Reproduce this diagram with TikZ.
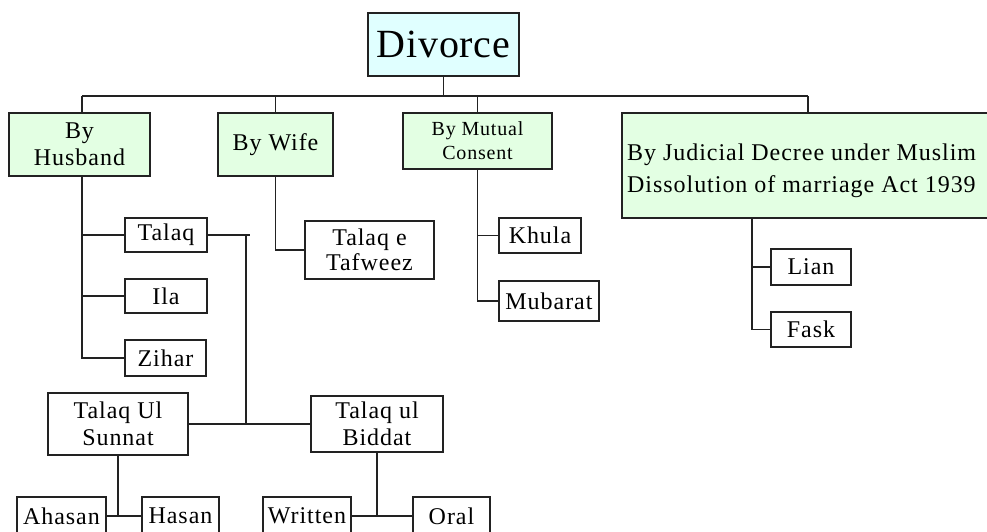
\documentclass[tikz,border=0pt]{standalone}
\usepackage{fontspec}
\setmainfont{Liberation Serif}
\newfontfamily\boxfont[LetterSpace=4]{Liberation Serif}
\newfontfamily\bigfont[LetterSpace=2]{Liberation Serif}
\definecolor{cyanfill}{HTML}{E0FFFF}
\definecolor{greenfill}{HTML}{E3FFE3}
\definecolor{linecol}{HTML}{222222}
\begin{document}
\begin{tikzpicture}[x=1pt,y=-1pt,
  box/.style={draw=linecol,line width=1.1pt,fill=white,inner sep=0pt,align=center,
    font=\boxfont\fontsize{24}{27}\selectfont},
  grn/.style={box,fill=greenfill},
  conn/.style={draw=linecol,line width=1.1pt}]
\useasboundingbox (0,0) rectangle (987,531);
\clip (0,0) rectangle (987,531);
\fill[white] (0,0) rectangle (987,531);

% top
\node[box,fill=cyanfill,minimum width=151,minimum height=63,
  font=\bigfont\fontsize{40}{44}\selectfont] (divorce) at (443.5,44.5) {Divorce};

% level 1
\node[grn,minimum width=141,minimum height=63] (husband) at (79.5,144.5) {By\\Husband};
\node[grn,minimum width=115,minimum height=63] (wife) at (275.5,144.5) {By Wife};
\node[grn,minimum width=149,minimum height=56,
  font=\boxfont\fontsize{20}{24}\selectfont] (mutual) at (477.5,141) {By Mutual\\Consent};
\node[grn,minimum width=372,minimum height=105] (judicial) at (808,165.5) {};
\node[anchor=west,align=left,inner sep=0pt,
  font=\boxfont\fontsize{24}{32}\selectfont] (judtext) at (627,171)
  {By Judicial Decree under Muslim\\Dissolution of marriage Act 1939};

% husband children
\node[box,minimum width=82,minimum height=34] (talaq) at (166,235) {Talaq};
\node[box,minimum width=82,minimum height=34] (ila) at (166,296) {Ila};
\node[box,minimum width=81,minimum height=36] (zihar) at (165.5,358) {Zihar};

% wife child
\node[box,minimum width=129,minimum height=58,
  font=\boxfont\fontsize{24}{25}\selectfont] (tafweez) at (369.5,250) {Talaq e\\Tafweez};

% mutual children
\node[box,minimum width=82,minimum height=35] (khula) at (540,235.5) {Khula};
\node[box,minimum width=100,minimum height=40] (mubarat) at (549,301) {Mubarat};

% judicial children
\node[box,minimum width=80,minimum height=36] (lian) at (811,267) {Lian};
\node[box,minimum width=80,minimum height=35] (fask) at (811,329.5) {Fask};

% talaq subtypes
\node[box,minimum width=140,minimum height=62] (sunnat) at (118,424) {Talaq Ul\\Sunnat};
\node[box,minimum width=132,minimum height=56] (biddat) at (377,424) {Talaq ul\\Biddat};

% bottom row
\node[box,minimum width=89,minimum height=38] (ahasan) at (61.5,516) {Ahasan};
\node[box,minimum width=77,minimum height=38] (hasan) at (180.5,516) {Hasan};
\node[box,minimum width=88,minimum height=38] (written) at (307,516) {Written};
\node[box,minimum width=77,minimum height=38] (oral) at (451.5,516) {Oral};

% connectors
\coordinate (bL) at (82,96);
\coordinate (bR) at (808,96);
\draw[conn] (divorce.south) -- (divorce.south |- bL);
\draw[conn] (bL) -- (bR);
\draw[conn] (bL) -- (bL |- husband.north);
\draw[conn] (wife.north |- bL) -- (wife.north);
\draw[conn] (mutual.north |- bL) -- (mutual.north);
\draw[conn] (bR) -- (judicial.north);

\draw[conn] (bL |- husband.south) -- (bL |- zihar.west) -- (zihar.west);
\draw[conn] (bL |- talaq.west) -- (talaq.west);
\draw[conn] (bL |- ila.west) -- (ila.west);

\draw[conn] (wife.south) -- (wife.south |- tafweez.west) -- (tafweez.west);

\draw[conn] (mutual.south) -- (mutual.south |- mubarat.west) -- (mubarat.west);
\draw[conn] (mutual.south |- khula.west) -- (khula.west);

\coordinate (jv) at (752,218);
\draw[conn] (jv) -- (jv |- fask.west) -- (fask.west);
\draw[conn] (jv |- lian.west) -- (lian.west);

\coordinate (tq) at (250,235);
\coordinate (tv) at (246,235);
\draw[conn] (talaq.east) -- (tq);
\draw[conn] (tv) -- (tv |- sunnat.east);
\draw[conn] (sunnat.east) -- (biddat.west);

\draw[conn] (sunnat.south) -- (sunnat.south |- ahasan.east);
\draw[conn] (ahasan.east) -- (hasan.west);
\draw[conn] (biddat.south) -- (biddat.south |- written.east);
\draw[conn] (written.east) -- (oral.west);
\end{tikzpicture}
\end{document}
